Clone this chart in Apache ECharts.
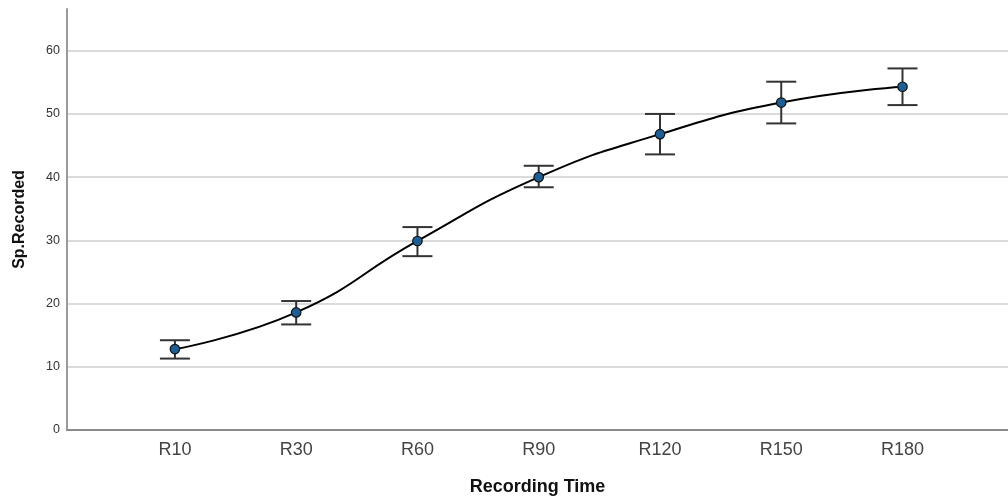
<!DOCTYPE html>
<html>
<head>
<meta charset="utf-8">
<script src="https://cdn.jsdelivr.net/npm/echarts@6/dist/echarts.min.js"></script>
<style>html,body{margin:0;padding:0;background:#fff;}#c{width:1008px;height:503px;}</style>
</head>
<body>
<div id="c"></div>
<script>
const categories = ['R10','R30','R60','R90','R120','R150','R180'];
const means = [12.8, 18.6, 29.9, 40.0, 46.8, 51.8, 54.3];
const lower = [11.3, 16.7, 27.5, 38.4, 43.6, 48.5, 51.4];
const upper = [14.2, 20.4, 32.1, 41.8, 50.0, 55.1, 57.2];
const yTicks = [0, 10, 20, 30, 40, 50, 60];

const positions = categories.map((c, i) => i + 1);
const lineData = means.map((v, i) => [positions[i], v]);
const errData = means.map((v, i) => [positions[i], lower[i], upper[i]]);

const chart = echarts.init(document.getElementById('c'), null, {renderer: 'canvas'});
const font = 'Liberation Sans, Arial, sans-serif';
chart.setOption({
  animation: false,
  backgroundColor: '#fff',
  grid: {left: 67, right: 0, top: 9, bottom: 73, containLabel: false},
  xAxis: {
    type: 'value', min: 0.11, max: 7.87,
    name: 'Recording Time', nameLocation: 'middle', nameGap: 48,
    nameTextStyle: {fontFamily: font, fontSize: 18, fontWeight: 'bold', color: '#111'},
    axisLine: {show: true, lineStyle: {color: '#8a8a8a', width: 2}},
    axisTick: {show: false},
    splitLine: {show: false},
    axisLabel: {
      customValues: positions,
      formatter: v => categories[Math.round(v) - 1] || '',
      fontFamily: font, fontSize: 18, color: '#444', margin: 11
    }
  },
  yAxis: {
    type: 'value', min: 0, max: 66.6, interval: 10,
    name: 'Sp.Recorded', nameLocation: 'middle', nameGap: 39,
    nameTextStyle: {fontFamily: font, fontSize: 16, fontWeight: 'bold', color: '#111'},
    axisLine: {show: true, lineStyle: {color: '#9a9a9a', width: 2}},
    axisTick: {show: false},
    axisLabel: {
      customValues: yTicks,
      fontFamily: font, fontSize: 12.5, color: '#333', margin: 7
    },
    splitLine: {show: true, showMinLine: false, showMaxLine: false, lineStyle: {color: '#cfcfcf', width: 1.5}}
  },
  series: [
    {
      type: 'custom',
      z: 2,
      data: errData,
      renderItem: function (params, api) {
        const x = api.value(0);
        const lo = api.coord([x, api.value(1)]);
        const hi = api.coord([x, api.value(2)]);
        const hw = 15;
        const style = {stroke: '#333', lineWidth: 2};
        return {
          type: 'group',
          children: [
            {type: 'line', shape: {x1: lo[0], y1: lo[1], x2: hi[0], y2: hi[1]}, style: style},
            {type: 'line', shape: {x1: lo[0] - hw, y1: lo[1], x2: lo[0] + hw, y2: lo[1]}, style: style},
            {type: 'line', shape: {x1: hi[0] - hw, y1: hi[1], x2: hi[0] + hw, y2: hi[1]}, style: style}
          ]
        };
      }
    },
    {
      type: 'line',
      z: 3,
      data: lineData,
      smooth: 0.5,
      symbol: 'circle',
      symbolSize: 9.5,
      lineStyle: {color: '#000', width: 2},
      itemStyle: {color: '#1d5f95', borderColor: '#111', borderWidth: 1.2}
    }
  ]
});
</script>
</body>
</html>
